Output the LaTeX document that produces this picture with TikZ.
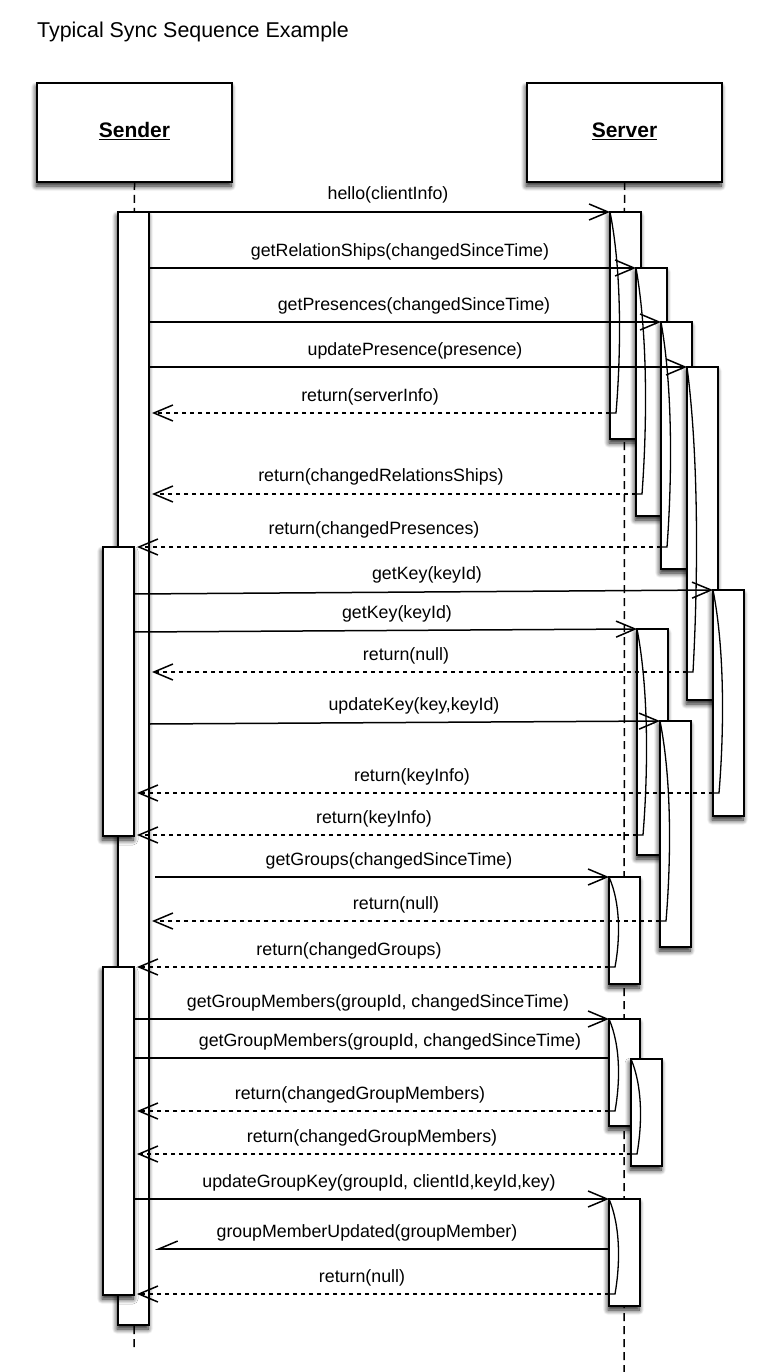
\documentclass[tikz,border=0pt]{standalone}
\usepackage{fontspec}
\setmainfont{Liberation Sans}
\usetikzlibrary{arrows.meta,shadows.blur}

\tikzset{
  barshadow/.style={blur shadow={shadow xshift=-1pt, shadow yshift=-4pt, shadow blur radius=5pt,
    shadow blur steps=8, shadow opacity=90}},
  actor/.style={draw, line width=1.7pt, fill=white, minimum width=195pt, minimum height=99pt,
    inner sep=0pt, outer sep=0pt, barshadow, text height=15pt, text depth=4pt,
    font=\fontsize{21}{25}\selectfont\bfseries},
  actbar/.style={draw, line width=1.7pt, fill=white, minimum width=31pt, inner sep=0pt, outer sep=0pt, barshadow},
  lifeline/.style={line width=1.5pt, dash pattern=on 8pt off 5pt},
  call/.style={line width=1.5pt, -{Straight Barb[length=19pt,width=16pt]}},
  ret/.style={line width=1.5pt, dash pattern=on 4pt off 4pt, -{Straight Barb[length=19pt,width=16pt]}},
  selfline/.style={line width=1.3pt},
  lbl/.style={anchor=base, inner sep=0pt, font=\fontsize{17.8}{21}\selectfont},
}

% server activation: name, left x, top y, bottom y, y of the return
\newcommand{\activation}[5]{%
  \pgfmathsetmacro{\barh}{#4-#3}
  \node[actbar, minimum height=\barh pt, anchor=north west] (#1) at (#2,#3) {};
  \pgfmathsetmacro{\bend}{0.3*(#5-#3)}
  \draw[selfline] (#1.north west) .. controls +(12,\bend) and +(5,-\bend) .. (#2+6,#5) -- (#1.west |- 0,#5);
}

\begin{document}
\begin{tikzpicture}[x=1pt, y=-1pt]
    \useasboundingbox (0,0) rectangle (780,1372);

    \node[anchor=base west, inner sep=0pt, font=\fontsize{21.4}{25}\selectfont] (title) at (37,38)
        {Typical Sync Sequence Example};

    % the two participants and their lifelines
    \node[actor] (sender) at (134.5,132.5) {\underline{Sender}};
    \node[actor] (server) at (624.5,132.5) {\underline{Server}};
    \coordinate (senderEnd) at (134,1350);
    \coordinate (serverEnd) at (624,1372);
    \draw[lifeline] (sender.south) -- (senderEnd);
    \draw[lifeline] (server.south) -- (serverEnd);

    % sender activations
    \node[actbar, minimum height=1113pt, anchor=north west] (s1) at (118,212) {};
    \node[actbar, minimum height=289pt, anchor=north west] (s2) at (103,547) {};
    \node[actbar, minimum height=328pt, anchor=north west] (s3) at (103,967) {};
    \coordinate (s1in) at ([xshift=3pt]s1.east);
    \coordinate (s1out) at ([xshift=6pt]s1.east);
    \coordinate (s2in) at ([xshift=3pt]s2.east);
    \coordinate (s3in) at ([xshift=3pt]s3.east);

    % server activations
    \activation{a1}{610}{212}{439}{413}
    \activation{a2}{636}{268}{516}{494}
    \activation{a3}{661}{322}{569}{547}
    \activation{a4}{687}{367}{700}{672}
    \activation{a5}{713}{590}{816}{793}
    \activation{a6}{637}{629}{855}{835}
    \activation{a7}{660}{721}{947}{921}
    \activation{a8}{609}{877}{984}{967}
    \activation{a9}{609}{1019}{1126}{1111}
    \activation{a10}{631}{1059}{1166}{1154}
    \activation{a11}{609}{1199}{1306}{1294}

    % first round: relations and presences
    \draw[call] (s1.east |- a1.north west) -- (a1.north west);
    \node[lbl] (l1) at (388,200) {hello(clientInfo)};
    \draw[call] (s1.east |- a2.north west) -- (a2.north west);
    \node[lbl] (l2) at (400,256) {getRelationShips(changedSinceTime)};
    \draw[call] (s1.east |- a3.north west) -- (a3.north west);
    \node[lbl] (l3) at (414,310) {getPresences(changedSinceTime)};
    \draw[call] (s1.east |- a4.north west) -- (a4.north west);
    \node[lbl] (l4) at (415,355) {updatePresence(presence)};
    \draw[ret] (a1.west |- 0,413) -- (s1in |- 0,413);
    \node[lbl] (l5) at (370,401) {return(serverInfo)};
    \draw[ret] (a2.west |- 0,494) -- (s1in |- 0,494);
    \node[lbl] (l6) at (381,481) {return(changedRelationsShips)};
    \draw[ret] (a3.west |- 0,547) -- (s2in |- 0,547);
    \node[lbl] (l7) at (374,534) {return(changedPresences)};

    % keys
    \draw[call] (s2.east |- 0,594) -- (a5.north west);
    \node[lbl] (l8) at (427,579) {getKey(keyId)};
    \draw[call] (s2.east |- 0,632) -- (a6.north west);
    \node[lbl] (l9) at (397,618) {getKey(keyId)};
    \draw[ret] (a4.west |- 0,672) -- (s1in |- 0,672);
    \node[lbl] (l10) at (406,660) {return(null)};
    \draw[call] (s1.east |- 0,724) -- (a7.north west);
    \node[lbl] (l11) at (414,710) {updateKey(key,keyId)};
    \draw[ret] (a5.west |- 0,793) -- (s2in |- 0,793);
    \node[lbl] (l12) at (412,781) {return(keyInfo)};
    \draw[ret] (a6.west |- 0,835) -- (s2in |- 0,835);
    \node[lbl] (l13) at (374,823) {return(keyInfo)};

    % groups
    \draw[call] (s1out |- a8.north west) -- (a8.north west);
    \node[lbl] (l14) at (389,865) {getGroups(changedSinceTime)};
    \draw[ret] (a7.west |- 0,921) -- (s1in |- 0,921);
    \node[lbl] (l15) at (396,909) {return(null)};
    \draw[ret] (a8.west |- 0,967) -- (s3in |- 0,967);
    \node[lbl] (l16) at (349,955) {return(changedGroups)};
    \draw[call] (s3.east |- a9.north west) -- (a9.north west);
    \node[lbl] (l17) at (378,1007) {getGroupMembers(groupId, changedSinceTime)};
    \draw[line width=1.5pt] (s3.east |- 0,1058) -- (a9.west |- 0,1058);
    \node[lbl] (l18) at (390,1046) {getGroupMembers(groupId, changedSinceTime)};
    \draw[ret] (a9.west |- 0,1111) -- (s3in |- 0,1111);
    \node[lbl] (l19) at (360,1099) {return(changedGroupMembers)};
    \draw[ret] (a10.west |- 0,1154) -- (s3in |- 0,1154);
    \node[lbl] (l20) at (372,1142) {return(changedGroupMembers)};
    \draw[call] (s3.east |- a11.north west) -- (a11.north west);
    \node[lbl] (l21) at (379,1187) {updateGroupKey(groupId, clientId,keyId,key)};
    \draw[line width=1.5pt, -{Straight Barb[length=19pt,width=16pt,harpoon,swap]}] (a11.west |- 0,1249) -- (s1out |- 0,1249);
    \node[lbl] (l22) at (367,1237) {groupMemberUpdated(groupMember)};
    \draw[ret] (a11.west |- 0,1294) -- (s3in |- 0,1294);
    \node[lbl] (l23) at (362,1282) {return(null)};
\end{tikzpicture}
\end{document}
